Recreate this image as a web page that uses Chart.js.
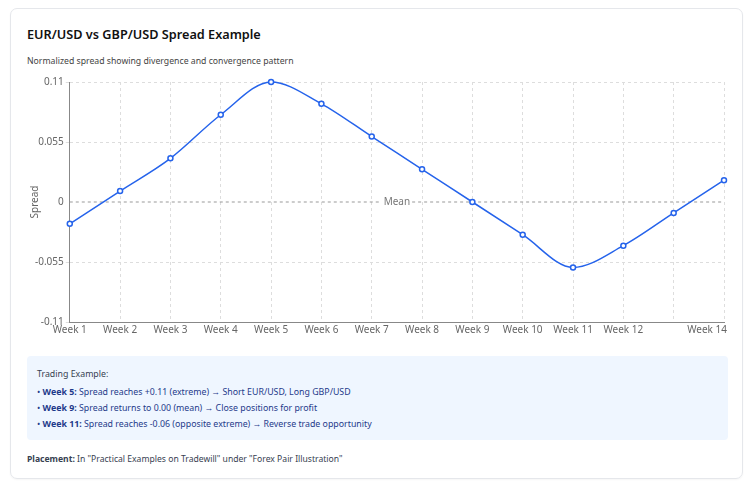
<!DOCTYPE html>
<html>
<head>
<meta charset="utf-8">
<script src="https://cdn.jsdelivr.net/npm/chart.js@4.4.1/dist/chart.umd.min.js"></script>
<style>
    html, body { margin: 0; padding: 0; background: #fff; }
    body { font-family: "Noto Sans", "Open Sans", sans-serif; width: 753px; height: 482px; overflow: hidden; }
    .card {
        position: absolute; left: 10px; top: 8px; width: 733px; height: 471px;
        border: 1px solid #e5e7eb; border-radius: 7px; box-sizing: border-box;
        box-shadow: 0 1px 2px rgba(0,0,0,0.04);
    }
    h2 { position: absolute; left: 16px; top: 16px; margin: 0; font-size: 12.7px; font-weight: 600; color: #111; }
    .sub { position: absolute; left: 16px; top: 46px; margin: 0; font-size: 8.7px; color: #444; }
    .chart-wrap { position: absolute; left: 12px; top: 65px; width: 707px; height: 264px; }
    .info {
        position: absolute; left: 16px; top: 347px; width: 701px; height: 84px;
        background: #eff6ff; border-radius: 4px; box-sizing: border-box; padding: 12px 10px 0 10px;
        font-size: 8.8px; color: #1e3a8a;
    }
    .info .head { color: #374151; margin-bottom: 6px; }
    .info div.row { margin-bottom: 4px; }
    .place { position: absolute; left: 16px; top: 444px; font-size: 8.6px; color: #374151; }
</style>
</head>
<body>
<div class="card">
    <h2>EUR/USD vs GBP/USD Spread Example</h2>
    <p class="sub">Normalized spread showing divergence and convergence pattern</p>
    <div class="chart-wrap"><canvas id="spreadChart"></canvas></div>
    <div class="info">
        <div class="head">Trading Example:</div>
        <div class="row">• <b>Week 5:</b> Spread reaches +0.11 (extreme) → Short EUR/USD, Long GBP/USD</div>
        <div class="row">• <b>Week 9:</b> Spread returns to 0.00 (mean) → Close positions for profit</div>
        <div class="row">• <b>Week 11:</b> Spread reaches -0.06 (opposite extreme) → Reverse trade opportunity</div>
    </div>
    <div class="place"><b>Placement:</b> In "Practical Examples on Tradewill" under "Forex Pair Illustration"</div>
</div>
<script>
// Spread data
const weeks = ['Week 1', 'Week 2', 'Week 3', 'Week 4', 'Week 5', 'Week 6', 'Week 7',
               'Week 8', 'Week 9', 'Week 10', 'Week 11', 'Week 12', 'Week 13', 'Week 14'];
const spread = [-0.02, 0.01, 0.04, 0.08, 0.11, 0.09, 0.06, 0.03, 0.00, -0.03, -0.06, -0.04, -0.01, 0.02];
const yTicks = [-0.11, -0.055, 0, 0.055, 0.11];
const hiddenLabels = ['Week 13']; // skipped on the axis in the original
const meanValue = 0;

const tickFont = { family: '"Noto Sans", sans-serif', size: 10 };
const lastIndex = weeks.length - 1;

// Draw the dashed mean line with its label
const meanLinePlugin = {
    id: 'meanLine',
    beforeDatasetsDraw(chart) {
        const { ctx, chartArea, scales } = chart;
        const y = scales.y.getPixelForValue(meanValue);
        const cx = (chartArea.left + chartArea.right) / 2;
        ctx.save();
        ctx.font = '10px "Noto Sans", sans-serif';
        const w = ctx.measureText('Mean').width + 4;
        ctx.strokeStyle = '#999';
        ctx.lineWidth = 1;
        ctx.setLineDash([3, 3]);
        ctx.beginPath();
        ctx.moveTo(chartArea.left, y);
        ctx.lineTo(cx - w / 2, y);
        ctx.moveTo(cx + w / 2, y);
        ctx.lineTo(chartArea.right, y);
        ctx.stroke();
        ctx.fillStyle = '#777';
        ctx.textAlign = 'center';
        ctx.textBaseline = 'middle';
        ctx.fillText('Mean', cx, y);
        ctx.restore();
    }
};

// Last x label is pulled inside the canvas (right aligned), like the original
const lastLabelPlugin = {
    id: 'lastLabel',
    afterDraw(chart) {
        const { ctx, scales } = chart;
        const x = scales.x.getPixelForTick(lastIndex);
        ctx.save();
        ctx.font = '10px "Noto Sans", sans-serif';
        ctx.fillStyle = '#666';
        ctx.textAlign = 'right';
        ctx.textBaseline = 'middle';
        ctx.fillText(weeks[lastIndex], x + 3, scales.x.top + 2 + 6);
        ctx.restore();
    }
};

new Chart(document.getElementById('spreadChart'), {
    type: 'line',
    data: {
        labels: weeks,
        datasets: [{
            label: 'Spread',
            data: spread,
            borderColor: '#2563eb',
            borderWidth: 1.5,
            backgroundColor: '#fff',
            pointBorderColor: '#2563eb',
            pointBackgroundColor: '#fff',
            pointBorderWidth: 1.5,
            pointRadius: 2.5,
            cubicInterpolationMode: 'monotone',
            fill: false,
            clip: false
        }]
    },
    options: {
        responsive: true,
        maintainAspectRatio: false,
        animation: false,
        layout: { padding: { right: 6 } },
        plugins: {
            legend: { display: false },
            tooltip: { enabled: false }
        },
        scales: {
            x: {
                offset: false,
                grid: {
                    color: '#ddd',
                    drawTicks: false
                },
                border: { display: true, color: '#888', dash: [3, 3] },
                ticks: {
                    autoSkip: false,
                    maxRotation: 0,
                    color: '#666',
                    font: tickFont,
                    padding: 2,
                    callback: (v, i) => (hiddenLabels.includes(weeks[i]) || i === lastIndex) ? '' : weeks[i]
                }
            },
            y: {
                min: yTicks[0],
                max: yTicks[yTicks.length - 1],
                afterBuildTicks: axis => { axis.ticks = yTicks.map(v => ({ value: v })); },
                grid: {
                    color: ctx => ctx.tick && ctx.tick.value === meanValue ? 'rgba(0,0,0,0)' : '#ddd',
                    tickLength: 4
                },
                border: { display: true, color: '#888', dash: [3, 3] },
                title: {
                    display: true,
                    text: 'Spread',
                    color: '#666',
                    font: tickFont,
                    padding: { top: 6, bottom: -8 }
                },
                ticks: {
                    color: '#666',
                    font: tickFont,
                    padding: 2,
                    callback: v => String(Math.round(v * 1000) / 1000)
                }
            }
        }
    },
    plugins: [meanLinePlugin, lastLabelPlugin]
});
</script>
</body>
</html>
